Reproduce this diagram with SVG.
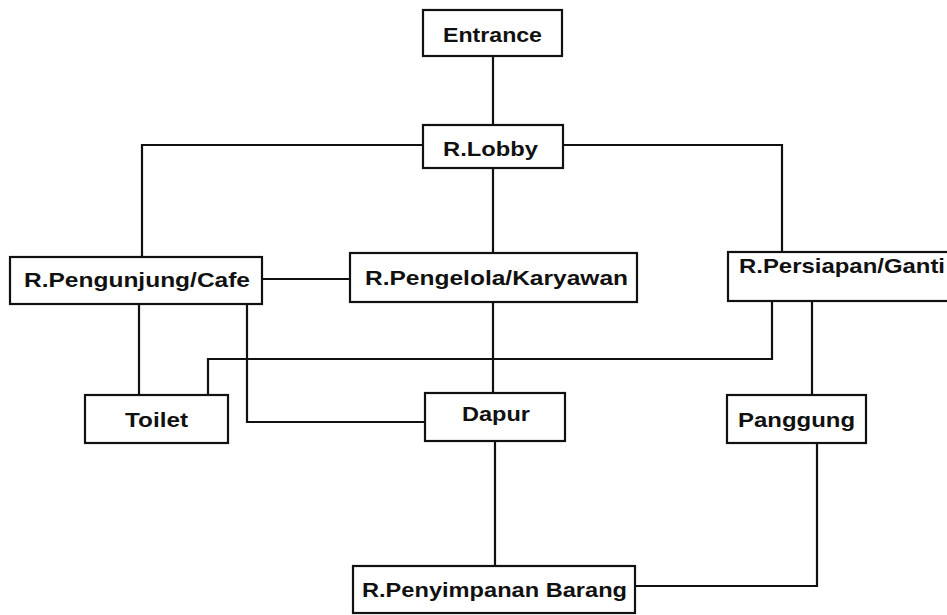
<svg xmlns="http://www.w3.org/2000/svg" width="947" height="615" viewBox="0 0 947 615">
  <style>
    .box { fill: #ffffff; stroke: #111111; stroke-width: 2.2; }
    .lbl { font-family: "Liberation Sans", Arial, sans-serif; font-weight: bold; font-size: 21px; fill: #111111; }
    .wire { fill: none; stroke: #111111; stroke-width: 2.2; stroke-linejoin: miter; }
  </style>
  <rect width="947" height="615" fill="#ffffff"/>

  <!-- connectors -->
  <g id="connectors">
    <path class="wire" d="M493 56 V125"/>
    <path class="wire" d="M423 145 H142 V257"/>
    <path class="wire" d="M563 145 H782 V252"/>
    <path class="wire" d="M493 168 V253"/>
    <path class="wire" d="M262 279 H350"/>
    <path class="wire" d="M139 304 V395"/>
    <path class="wire" d="M247 304 V422 H425"/>
    <path class="wire" d="M208 395 V359 H772 V301"/>
    <path class="wire" d="M493 302 V393"/>
    <path class="wire" d="M812 301 V395"/>
    <path class="wire" d="M495 441 V566"/>
    <path class="wire" d="M635 586 H817 V443"/>
  </g>

  <g id="entrance">
    <rect class="box" x="423" y="10" width="139" height="46"/>
    <text class="lbl" x="443" y="42" textLength="99" lengthAdjust="spacingAndGlyphs">Entrance</text>
  </g>

  <g id="lobby">
    <rect class="box" x="423" y="125" width="140" height="43"/>
    <text class="lbl" x="443" y="156" textLength="95" lengthAdjust="spacingAndGlyphs">R.Lobby</text>
  </g>

  <g id="pengunjung-cafe">
    <rect class="box" x="10" y="257" width="252" height="47"/>
    <text class="lbl" x="24" y="287" textLength="226" lengthAdjust="spacingAndGlyphs">R.Pengunjung/Cafe</text>
  </g>

  <g id="pengelola-karyawan">
    <rect class="box" x="350" y="253" width="287" height="49"/>
    <text class="lbl" x="365" y="285" textLength="263" lengthAdjust="spacingAndGlyphs">R.Pengelola/Karyawan</text>
  </g>

  <g id="persiapan-ganti">
    <rect class="box" x="728" y="252" width="230" height="49"/>
    <text class="lbl" x="739" y="273" textLength="206" lengthAdjust="spacingAndGlyphs">R.Persiapan/Ganti</text>
  </g>

  <g id="toilet">
    <rect class="box" x="85" y="395" width="143" height="48"/>
    <text class="lbl" x="125" y="427" textLength="63" lengthAdjust="spacingAndGlyphs">Toilet</text>
  </g>

  <g id="dapur">
    <rect class="box" x="425" y="393" width="140" height="48"/>
    <text class="lbl" x="462" y="421" textLength="68" lengthAdjust="spacingAndGlyphs">Dapur</text>
  </g>

  <g id="panggung">
    <rect class="box" x="727" y="395" width="139" height="48"/>
    <text class="lbl" x="738" y="427" textLength="117" lengthAdjust="spacingAndGlyphs">Panggung</text>
  </g>

  <g id="penyimpanan-barang">
    <rect class="box" x="353" y="566" width="282" height="47"/>
    <text class="lbl" x="362" y="597" textLength="265" lengthAdjust="spacingAndGlyphs">R.Penyimpanan Barang</text>
  </g>
</svg>
